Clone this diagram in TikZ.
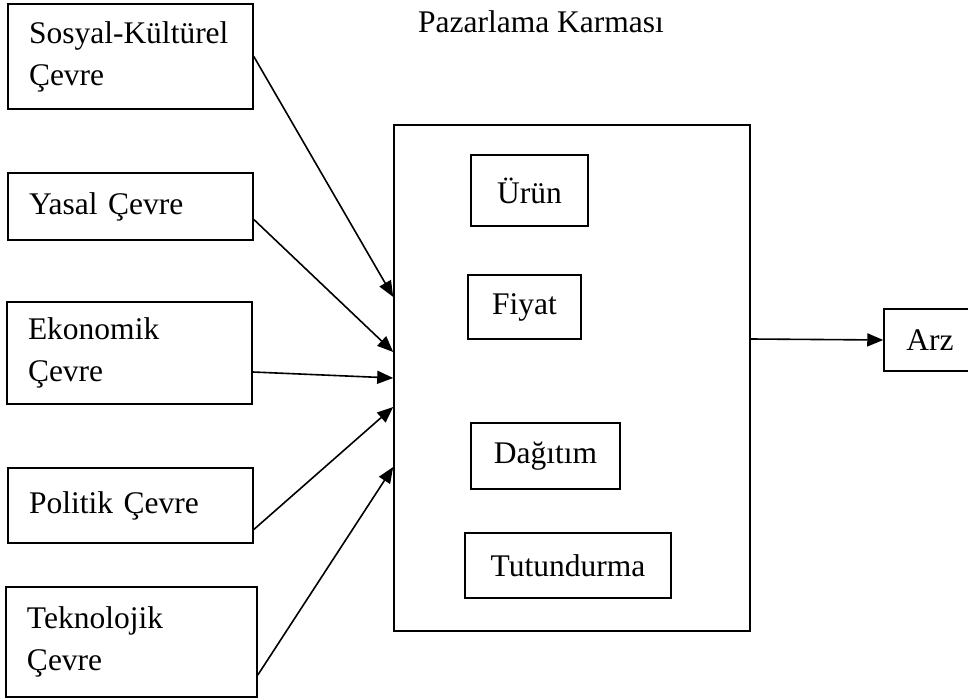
\documentclass[tikz,border=0pt]{standalone}
\usepackage{fontspec}
\setmainfont{Liberation Serif}
\usetikzlibrary{arrows.meta}
\tikzset{
  envbox/.style={draw, line width=1.6pt, align=left, inner xsep=21pt, inner ysep=0pt},
  mixitem/.style={draw, line width=1.5pt, inner sep=0pt},
  feed/.style={line width=1.6pt, -{Triangle[length=16pt,width=13pt]}},
}
\begin{document}
\begin{tikzpicture}[x=1pt,y=-1pt,font=\fontsize{31.5}{42}\selectfont]
\useasboundingbox (0,0) rectangle (968,700);
% environment boxes on the left
\node[envbox, text width=203pt, minimum height=105pt] (sosyal) at (130.5,56.5) {Sosyal-Kültürel\\Çevre};
\node[envbox, text width=203pt, minimum height=67pt] (yasal) at (130.5,206.5) {Yasal Çevre};
\node[envbox, text width=203pt, minimum height=102pt] (ekonomik) at (129.5,353) {Ekonomik\\Çevre};
\node[envbox, text width=203pt, minimum height=75pt] (politik) at (130.5,505.5) {Politik Çevre};
\node[envbox, text width=209pt, minimum height=110pt] (teknolojik) at (131.5,642) {Teknolojik\\Çevre};
% marketing mix
\node[anchor=base] (title) at (541,33) {Pazarlama Karması};
\node[draw, line width=1.6pt, minimum width=356pt, minimum height=506pt, inner sep=0pt] (mix) at (572,378) {};
\node[mixitem, minimum width=117pt, minimum height=71pt] (urun) at (529.5,190.5) {Ürün};
\node[mixitem, minimum width=113pt, minimum height=64pt] (fiyat) at (524.5,307) {Fiyat};
\node[mixitem, minimum width=149pt, minimum height=66pt] (dagitim) at (545.5,456) {Dağıtım};
\node[mixitem, minimum width=206pt, minimum height=65pt] (tutundurma) at (568,565.5) {Tutundurma};
\node[mixitem, minimum width=92pt, minimum height=62pt] (arz) at (930,340) {Arz};
% arrows into the mix
\draw[feed] (sosyal.east) -- ([yshift=81pt]mix.west);
\draw[feed] ([yshift=-13pt]yasal.east) -- ([yshift=26pt]mix.west);
\draw[feed] ([yshift=-19pt]ekonomik.east) -- (mix.west);
\draw[feed] ([yshift=-24pt]politik.east) -- ([yshift=-29pt]mix.west);
\draw[feed] ([yshift=-33pt]teknolojik.east) -- ([yshift=-89pt]mix.west);
\draw[feed] ([yshift=39pt]mix.east) -- (arz.west);
\end{tikzpicture}
\end{document}
